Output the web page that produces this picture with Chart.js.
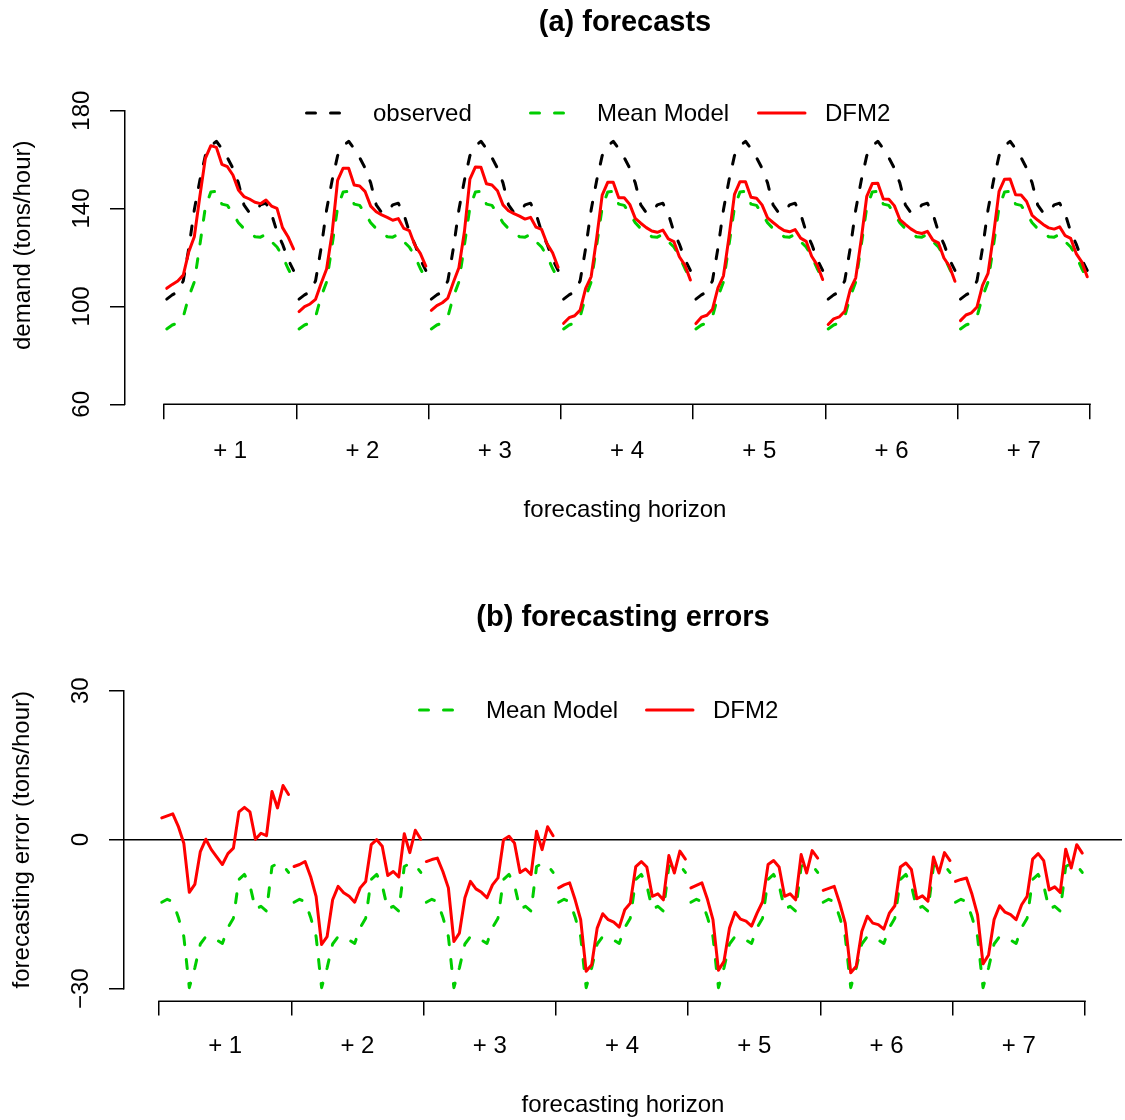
<!DOCTYPE html>
<html><head><meta charset="utf-8">
<script src="https://cdn.jsdelivr.net/npm/chart.js@4.4.0/dist/chart.umd.min.js"></script>
<style>
html,body{margin:0;padding:0;background:#fff;}
#wrap{position:relative;width:1125px;height:1120px;background:#fff;}
canvas{position:absolute;left:0;}
#c1{top:0;} #c2{top:560px;}
</style></head><body>
<div id="wrap"><canvas id="c1" width="1125" height="560"></canvas><canvas id="c2" width="1125" height="560"></canvas></div>
<script>
const FONT = "'Liberation Sans', Arial, Helvetica, sans-serif";

// ---- categories ----
const hours = [1,2,3,4,5,6,7,8,9,10,11,12,13,14,15,16,17,18,19,20,21,22,23,24];
const horizons = ['+ 1','+ 2','+ 3','+ 4','+ 5','+ 6','+ 7'];

// ---- (a) forecasts: demand (tons/hour) ----
const observedDay = [103.0,104.7,106.0,110.5,123.8,139.5,151.5,161.6,165.5,167.5,164.5,160.8,156.5,150.5,141.5,138.3,138.5,141.5,142.2,137.8,130.5,125.5,119.3,114.7];
const meanModelDay = [90.8,92.4,93.2,95.8,104.0,110.0,125.0,140.5,146.8,147.0,141.8,141.3,138.0,134.2,131.8,130.2,128.5,128.3,129.5,126.5,124.3,120.5,115.5,111.3];
const dfm2H1 = [107.4,109.0,110.4,112.8,122.4,128.5,144.9,160.5,165.7,165.0,158.1,157.1,153.7,147.6,144.9,143.9,142.6,142.0,143.5,141.0,140.1,132.2,128.5,123.5];
const dfm2H2 = [97.9,99.9,101.0,102.9,109.4,115.3,130.0,151.5,156.5,156.5,149.6,149.2,146.9,141.0,138.7,137.4,136.4,135.2,135.9,131.9,131.0,125.1,121.7,116.5];
const dfm2H3 = [98.4,100.3,101.5,103.4,109.9,115.8,130.5,152.0,157.0,156.9,150.1,149.6,147.3,141.5,139.1,137.9,136.9,135.7,136.4,132.4,131.5,125.6,121.9,116.0];
const dfm2H4 = [93.1,95.4,96.2,98.5,107.4,112.2,128.0,145.5,150.7,150.7,144.4,144.4,141.7,136.0,134.0,132.2,130.8,130.3,131.2,127.6,126.5,120.3,116.9,110.8];
const dfm2H5 = [93.0,95.6,96.4,98.8,107.6,112.5,128.3,145.8,151.0,151.0,144.6,144.2,141.5,136.2,134.3,132.5,131.0,130.5,131.4,127.9,126.6,120.5,117.0,111.0];
const dfm2H6 = [92.6,94.9,95.7,98.0,106.9,111.7,127.5,145.0,150.2,150.3,143.9,143.8,141.2,135.5,133.5,131.7,130.3,129.8,130.7,127.1,126.0,119.8,116.4,110.3];
const dfm2H7 = [94.2,96.5,97.4,99.8,108.6,113.5,129.3,147.0,152.0,152.1,145.6,145.5,142.9,137.2,135.3,133.5,132.1,131.6,132.5,128.9,127.8,121.6,118.2,112.1];
const dfm2Demand = [dfm2H1,dfm2H2,dfm2H3,dfm2H4,dfm2H5,dfm2H6,dfm2H7];

// ---- (b) forecasting errors (tons/hour) ----
const meanErrDay = [-12.6,-12.0,-12.5,-15.6,-19.5,-29.8,-25.8,-21.0,-19.5,-19.8,-20.2,-20.9,-17.7,-15.8,-8.0,-7.0,-9.2,-14.0,-13.4,-14.4,-5.4,-4.8,-5.1,-6.6];
const dfm2ErrH1 = [4.4,4.8,5.2,2.7,-0.7,-10.6,-9.0,-2.4,0.1,-2.0,-3.5,-5.0,-2.8,-1.7,5.6,6.5,5.6,0.1,1.3,0.8,9.7,6.4,10.9,9.1];
const dfm2ErrH2 = [-5.4,-5.0,-4.4,-7.4,-11.4,-21.1,-19.5,-12.1,-9.4,-10.7,-11.4,-12.6,-9.7,-8.4,-1.0,0.0,-1.3,-7.2,-6.4,-7.5,1.2,-2.6,1.9,0.1];
const dfm2ErrH3 = [-4.4,-4.0,-3.7,-6.4,-9.7,-20.5,-18.8,-11.7,-8.4,-9.9,-10.6,-11.7,-9.1,-7.7,0.0,0.7,-0.7,-6.6,-5.9,-7.0,1.7,-2.0,2.6,0.8];
const dfm2ErrH4 = [-9.7,-9.1,-8.7,-12.1,-16.1,-26.5,-25.2,-17.8,-14.9,-16.1,-16.6,-17.6,-14.1,-12.8,-5.4,-4.4,-5.5,-11.4,-10.9,-12.1,-3.2,-6.7,-2.3,-3.9];
const dfm2ErrH5 = [-9.7,-9.2,-8.7,-12.0,-16.1,-26.3,-24.5,-17.8,-14.6,-16.0,-16.4,-17.4,-14.8,-12.5,-5.0,-4.2,-5.5,-11.4,-10.9,-12.1,-3.0,-6.7,-2.2,-3.7];
const dfm2ErrH6 = [-10.2,-9.8,-9.4,-12.8,-16.8,-26.8,-25.5,-18.5,-15.4,-16.8,-17.1,-18.0,-14.8,-13.3,-5.5,-4.7,-6.0,-11.9,-11.3,-12.4,-3.5,-6.7,-2.6,-4.2];
const dfm2ErrH7 = [-8.4,-8.0,-7.7,-11.0,-15.1,-25.0,-23.2,-16.1,-13.3,-14.6,-15.1,-16.1,-13.1,-11.4,-3.9,-2.8,-4.2,-10.1,-9.5,-10.6,-1.9,-5.7,-1.0,-2.7];
const dfm2Err = [dfm2ErrH1,dfm2ErrH2,dfm2ErrH3,dfm2ErrH4,dfm2ErrH5,dfm2ErrH6,dfm2ErrH7];

// ---- tick labels ----
const demandTicks = [60,100,140,180];
const errorTicks = [-30,0,30];
const errorTickLabels = ['\u221230','0','30'];

// ---- styles ----
const COL_OBS = '#000000', COL_MEAN = '#00CD00', COL_DFM = '#FF0000';
const DASH = [9,15];
const LW = 3;

const perDay = hours.length;
const boundaries = horizons.map((_,k)=>k*perDay+0.5).concat([horizons.length*perDay+0.5]);
const centers = horizons.map((_,k)=>k*perDay+perDay/2+0.5);

function pts(values,k){ return values.map((v,i)=>({x:k*perDay+hours[i], y:v})); }
function lineDs(values,k,color,dash,order){
  return {data:pts(values,k), borderColor:color, backgroundColor:color, borderWidth:LW, borderDash:dash,
    borderCapStyle:'round', borderJoinStyle:'round', pointRadius:0, pointHoverRadius:0, tension:0, fill:false, order:order};
}

const rAxes = {
  id:'rAxes',
  afterDraw(chart,args,o){
    const ctx=chart.ctx, xs=chart.scales.x, ys=chart.scales.y;
    ctx.save(); ctx.strokeStyle='#000'; ctx.lineWidth=1.5; ctx.lineCap='square';
    ctx.beginPath();
    const yb = Math.round(xs.top)+0.25;
    ctx.moveTo(xs.getPixelForValue(o.x0), yb); ctx.lineTo(xs.getPixelForValue(o.x1), yb);
    const xl = Math.round(ys.right)-0.25;
    ctx.moveTo(xl, ys.getPixelForValue(o.y0)); ctx.lineTo(xl, ys.getPixelForValue(o.y1));
    ctx.stroke(); ctx.restore();
  }
};
const rLegend = {
  id:'rLegend',
  afterDraw(chart,args,o){
    const ctx=chart.ctx;
    o.items.forEach(it=>{
      ctx.save();
      ctx.strokeStyle=it.color; ctx.lineWidth=LW; ctx.lineCap='round'; ctx.setLineDash(it.dash);
      ctx.beginPath(); ctx.moveTo(it.x+1.5,o.y); ctx.lineTo(it.x+48,o.y); ctx.stroke();
      ctx.setLineDash([]);
      ctx.fillStyle='#000'; ctx.font='24px '+FONT; ctx.textBaseline='middle'; ctx.textAlign='left';
      ctx.fillText(it.text, it.x+68, o.y+1);
      ctx.restore();
    });
  }
};

function xScale(min,max,labelPad,height){
  return {
    type:'linear', min:min, max:max, bounds:'data', position:'bottom',
    afterBuildTicks: s=>{ s.ticks = boundaries.concat(centers).sort((a,b)=>a-b).map(v=>({value:v})); },
    ticks:{autoSkip:false, maxRotation:0, minRotation:0, color:'#000', font:{family:FONT,size:24}, padding:labelPad,
      callback:(v)=>{ const i=centers.indexOf(v); return i>=0 ? horizons[i] : ''; }},
    grid:{display:true, drawOnChartArea:false, drawTicks:true, tickLength:15, tickWidth:1.5, lineWidth:1.5, color:'#000',
      tickColor: c => (c.tick && centers.indexOf(c.tick.value)>=0) ? 'rgba(0,0,0,0)' : '#000'},
    border:{display:false},
    title:{display:true, text:'forecasting horizon', color:'#000', font:{family:FONT,size:24}, padding:{top:0,bottom:0}},
    afterFit: s=>{ s.height = height; }
  };
}

Chart.defaults.font.family = FONT;
Chart.defaults.color = '#000';

// ---------- (a) ----------
const dsA = [];
horizons.forEach((h,k)=>{
  dsA.push(lineDs(dfm2Demand[k],k,COL_DFM,[],0));
  dsA.push(lineDs(meanModelDay,k,COL_MEAN,DASH,1));
  dsA.push(lineDs(observedDay,k,COL_OBS,DASH,2));
});
new Chart(document.getElementById('c1'),{
  type:'line',
  data:{datasets:dsA},
  options:{
    responsive:false, animation:false, devicePixelRatio:1, events:[],
    layout:{padding:{left:0,right:0,top:0,bottom:35.6}},
    plugins:{
      legend:{display:false}, tooltip:{enabled:false},
      title:{display:true, fullSize:false, text:'(a) forecasts', color:'#000', font:{family:FONT,size:29,weight:'bold'}, padding:{top:5.6,bottom:45.8}},
      rAxes:{x0:boundaries[0], x1:boundaries[boundaries.length-1], y0:demandTicks[0], y1:demandTicks[demandTicks.length-1]},
      rLegend:{y:113, items:[
        {text:'observed', color:COL_OBS, dash:DASH, x:305},
        {text:'Mean Model', color:COL_MEAN, dash:DASH, x:529},
        {text:'DFM2', color:COL_DFM, dash:[], x:757}]}
    },
    scales:{
      x: xScale(-6.5756, 174.85, 17.3, 120.1),
      y:{type:'linear', min:60, max:190, bounds:'data', position:'left',
        afterBuildTicks: s=>{ s.ticks = demandTicks.map(v=>({value:v})); },
        ticks:{autoSkip:false, color:'#000', font:{family:FONT,size:24}, minRotation:90, maxRotation:90, crossAlign:'center', padding:7.5,
          callback:(v)=>String(v)},
        grid:{display:true, drawOnChartArea:false, drawTicks:true, tickLength:15, tickWidth:1.5, tickColor:'#000', lineWidth:1.5, color:'#000'},
        border:{display:false},
        title:{display:true, text:'demand (tons/hour)', color:'#000', font:{family:FONT,size:24}, padding:{top:8.6,bottom:0}},
        afterFit: s=>{ s.width = 125; }
      }
    }
  },
  plugins:[rAxes,rLegend]
});

// ---------- (b) ----------
const dsB = [];
horizons.forEach((h,k)=>{
  dsB.push(lineDs(dfm2Err[k],k,COL_DFM,[],0));
  dsB.push(lineDs(meanErrDay,k,COL_MEAN,DASH,1));
});
new Chart(document.getElementById('c2'),{
  type:'line',
  data:{datasets:dsB},
  options:{
    responsive:false, animation:false, devicePixelRatio:1, events:[],
    layout:{padding:{left:0,right:3,top:0,bottom:0.6}},
    plugins:{
      legend:{display:false}, tooltip:{enabled:false},
      title:{display:true, fullSize:false, text:'(b) forecasting errors', color:'#000', font:{family:FONT,size:29,weight:'bold'}, padding:{top:40.6,bottom:43.4}},
      rAxes:{x0:boundaries[0], x1:boundaries[boundaries.length-1], y0:errorTicks[0], y1:errorTicks[errorTicks.length-1]},
      rLegend:{y:150, items:[
        {text:'Mean Model', color:COL_MEAN, dash:DASH, x:418},
        {text:'DFM2', color:COL_DFM, dash:[], x:645}]}
    },
    scales:{
      x: xScale(-5.85, 175.21, 16, 118.8),
      y:{type:'linear', min:-32.4, max:32.4, bounds:'data', position:'left',
        afterBuildTicks: s=>{ s.ticks = errorTicks.map(v=>({value:v})); },
        ticks:{autoSkip:false, color:'#000', font:{family:FONT,size:24}, minRotation:90, maxRotation:90, crossAlign:'center', padding:7,
          callback:(v)=>{ const i=errorTicks.indexOf(v); return i>=0 ? errorTickLabels[i] : ''; }},
        grid:{display:true, drawOnChartArea:true, drawTicks:true, tickLength:15, tickWidth:1.5, tickColor:'#000', lineWidth:1.5,
          color: c => (c.tick && c.tick.value===0) ? '#000' : 'rgba(0,0,0,0)'},
        border:{display:false},
        title:{display:true, text:'forecasting error (tons/hour)', color:'#000', font:{family:FONT,size:24}, padding:{top:7.6,bottom:0}},
        afterFit: s=>{ s.width = 124; }
      }
    }
  },
  plugins:[rAxes,rLegend]
});
</script>
</body></html>
